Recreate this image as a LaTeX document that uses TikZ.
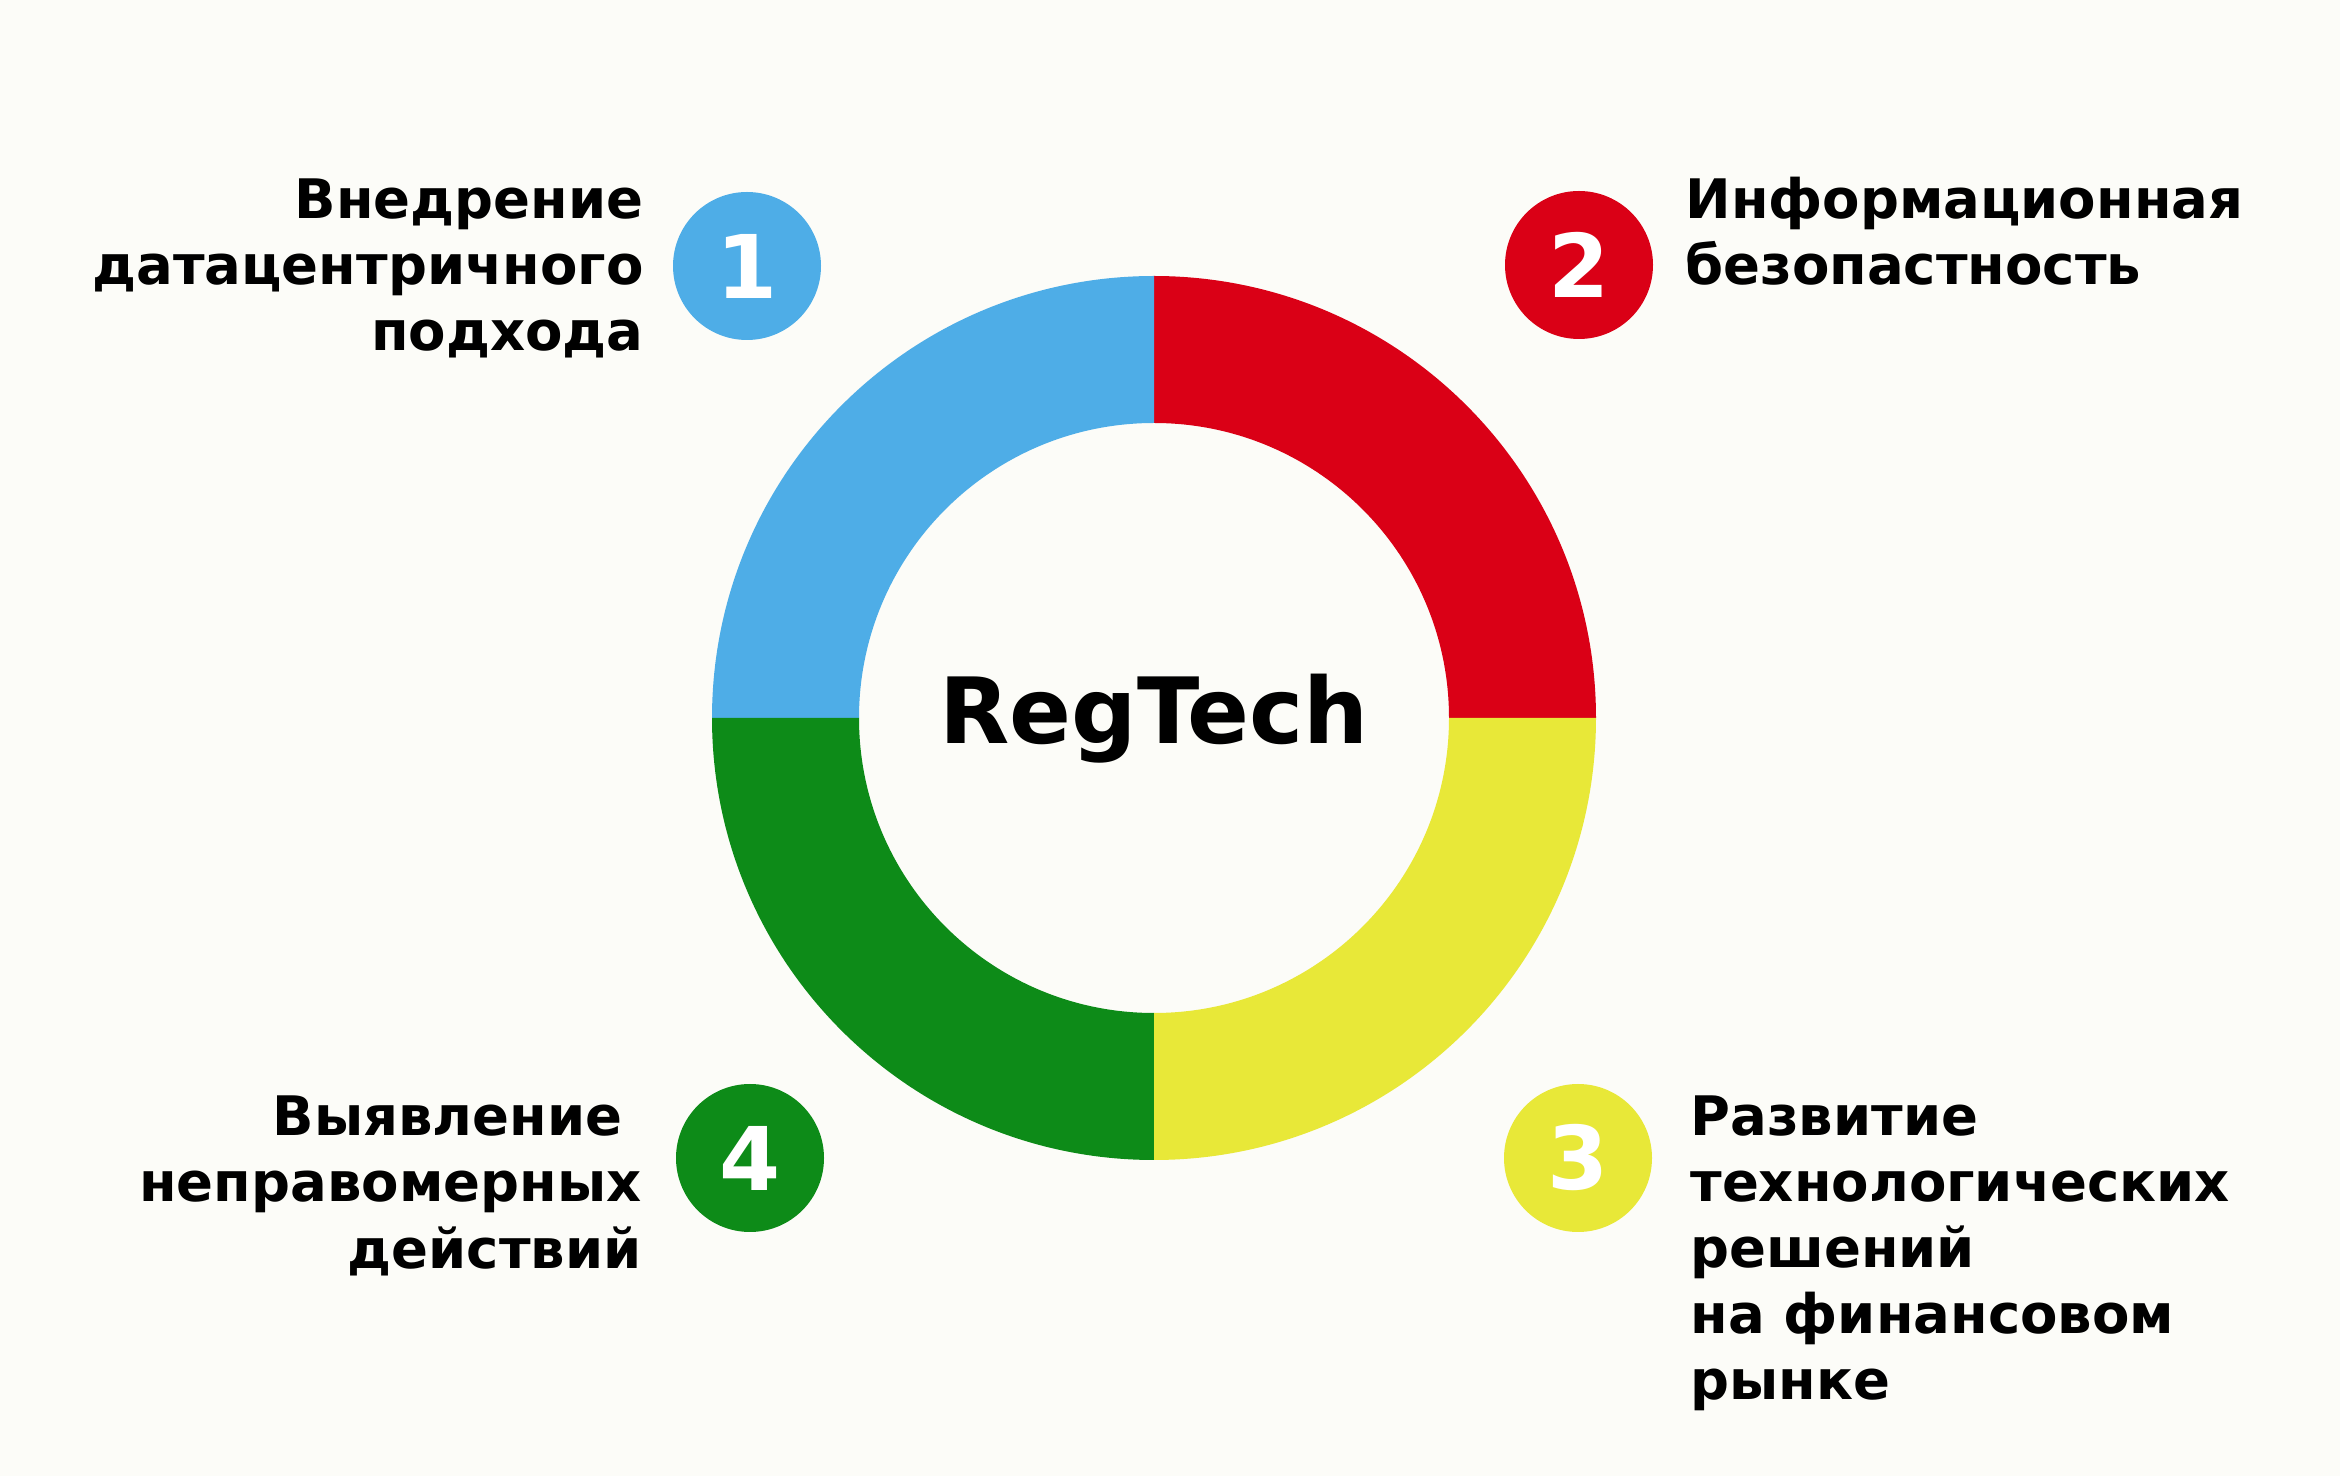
\documentclass[tikz,border=0pt]{standalone}
\usepackage{fontspec}
\setmainfont{DejaVu Sans}
\usetikzlibrary{positioning}

\definecolor{bgpaper}{HTML}{FCFCF8}
\definecolor{segblue}{HTML}{4EADE7}
\definecolor{segred}{HTML}{DA0016}
\definecolor{segyellow}{HTML}{E8E838}
\definecolor{seggreen}{HTML}{0D8B18}

\begin{document}
\begin{tikzpicture}[
    badge/.style={
        circle,
        minimum size=1.48cm,
        inner sep=0pt,
        text=white,
        font=\bfseries\fontsize{25}{25}\selectfont
    },
    caption/.style={
        inner sep=0pt,
        font=\bfseries\fontsize{15.5}{18.8}\selectfont
    }
]

% page
\fill[bgpaper] (0,0) rectangle (23.4,-14.76);
\useasboundingbox (0,0) rectangle (23.4,-14.76);

% ring
\coordinate (hub) at (11.54,-7.18);
\foreach \a/\col in {0/segred, 90/segblue, 180/seggreen, 270/segyellow}
  \fill[\col] ([shift={(\a:4.42)}]hub) arc[start angle=\a, delta angle=90, radius=4.42]
    -- ([shift={(\a+90:2.95)}]hub) arc[start angle=\a+90, delta angle=-90, radius=2.95] -- cycle;
\node[font=\bfseries\fontsize{26}{26}\selectfont, anchor=base, inner sep=0pt] (core) at ([yshift=-0.26cm]hub) {RegTech};

% badges
\node[badge, fill=segblue] (n1) at (7.47,-2.66) {1};
\node[badge, fill=segred] (n2) at (15.79,-2.65) {2};
\node[badge, fill=segyellow] (n3) at (15.78,-11.58) {3};
\node[badge, fill=seggreen] (n4) at (7.50,-11.58) {4};

% captions (base = last line)
\node[caption, anchor=base east, align=right] (t1) at ([xshift=-0.28cm, yshift=-0.85cm]n1.west)
  {Внедрение\\датацентричного\\подхода};
\node[caption, anchor=base west, align=left] (t2) at ([xshift=0.31cm, yshift=-0.20cm]n2.east)
  {Информационная\\безопастность};
\node[caption, anchor=base west, align=left] (t3) at ([xshift=0.37cm, yshift=-2.42cm]n3.east)
  {Развитие\\технологических\\решений\\на финансовом\\рынке};
\node[caption, anchor=base east, align=right] (t4) at ([xshift=-0.33cm, yshift=-1.10cm]n4.west)
  {Выявление\kern0.35em\\неправомерных\\действий};
\end{tikzpicture}
\end{document}
